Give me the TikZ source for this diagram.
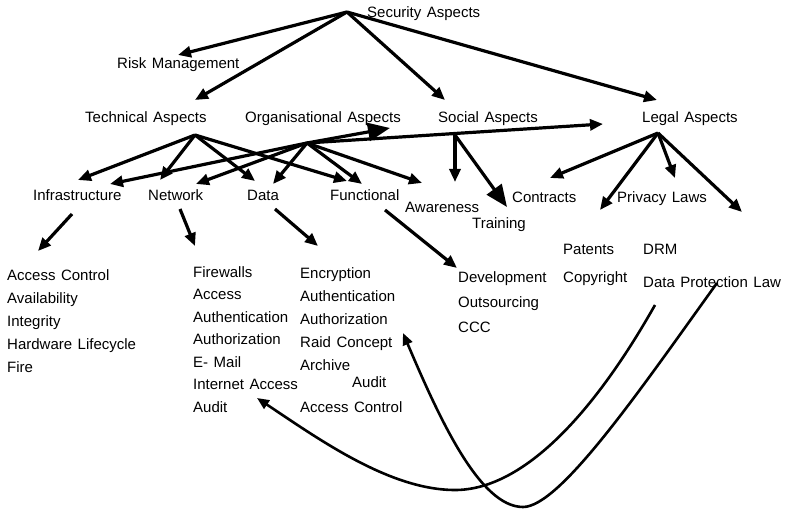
\documentclass[tikz,border=0pt]{standalone}
\usepackage{fontspec}
\setmainfont{Liberation Sans}
\usetikzlibrary{arrows.meta}

\newcommand\lblfont{\fontsize{15}{18}\selectfont\setlength{\spaceskip}{5.5pt}}

\tikzset{
  lbl/.style={anchor=base west, inner sep=0pt, font=\lblfont},
  arr/.style={line width=3.2pt, -{Triangle[length=13pt,width=11pt]}},
  bigarr/.style={line width=3.2pt, -{Triangle[length=22pt,width=18pt]}},
  bow/.style={line width=2.6pt, -{Triangle[length=12pt,width=10pt]}},
}

\begin{document}
\begin{tikzpicture}[x=1pt,y=-1pt]
    \useasboundingbox (0,0) rectangle (790,510);

    \def\capy{5.5}

    %Titulos
    \node[lbl] (sec)  at (367,12+\capy)  {Security Aspects};
    \node[lbl] (risk) at (117,63+\capy)  {Risk Management};
    \node[lbl] (tech) at (85,117+\capy)  {Technical Aspects};
    \node[lbl] (org)  at (245,117+\capy) {Organisational Aspects};
    \node[lbl] (soc)  at (438,117+\capy) {Social Aspects};
    \node[lbl] (leg)  at (642,117+\capy) {Legal Aspects};

    %Nivel2
    \node[lbl] (infra) at (33,195+\capy)  {Infrastructure};
    \node[lbl] (net)   at (148,195+\capy) {Network};
    \node[lbl] (data)  at (247,195+\capy) {Data};
    \node[lbl] (func)  at (330,195+\capy) {Functional};
    \node[lbl] (aware) at (405,207+\capy) {Awareness};
    \node[lbl] (train) at (472,223+\capy) {Training};
    \node[lbl] (contr) at (512,197+\capy) {Contracts};
    \node[lbl] (priv)  at (617,197+\capy) {Privacy Laws};

    %Listas
    \foreach \t [count=\i] in {Access Control, Availability, Integrity, Hardware Lifecycle, Fire}
        \node[lbl] (infra\i) at (7,{275+(\i-1)*23+\capy}) {\t};
    \foreach \t [count=\i] in {Firewalls, Access, Authentication, Authorization, E- Mail, Internet Access, Audit}
        \node[lbl] (net\i) at (193,{272+(\i-1)*22.5+\capy}) {\t};
    \foreach \t [count=\i] in {Encryption, Authentication, Authorization, Raid Concept, Archive}
        \node[lbl] (data\i) at (300,{273+(\i-1)*23+\capy}) {\t};
    \node[lbl] (data6) at (352,382+\capy) {Audit};
    \node[lbl] (data7) at (300,407+\capy) {Access Control};
    \foreach \t [count=\i] in {Development, Outsourcing, CCC}
        \node[lbl] (func\i) at (458,{277+(\i-1)*25+\capy}) {\t};
    \node[lbl] (pat)  at (563,249+\capy) {Patents};
    \node[lbl] (copy) at (563,277+\capy) {Copyright};
    \node[lbl] (drm)  at (643,249+\capy) {DRM};
    \node[lbl] (dpl)  at (643,282+\capy) {Data Protection Law};

    %Salidas
    \coordinate (sec-o)  at (347,12);
    \coordinate (tech-o) at (195,135);
    \coordinate (org-o)  at (307,143);
    \coordinate (soc-o)  at (455,135);
    \coordinate (leg-o)  at (658,133);

    %Puntas
    \coordinate (risk-a) at (178,55);
    \coordinate (tech-a) at (195,100);
    \coordinate (soc-a)  at (445,100);
    \coordinate (leg-a)  at (657,100);
    \coordinate (infra-a) at (78,180);
    \coordinate (net-a)   at (160,180);
    \coordinate (data-a)  at (255,181);
    \coordinate (func-a)  at (347,181);
    \coordinate (infra-b) at (110,184);
    \coordinate (net-b)   at (196,184);
    \coordinate (data-b)  at (273,184);
    \coordinate (func-b)  at (362,184);
    \coordinate (aware-b) at (422,183);
    \coordinate (leg-b)   at (603,124);
    \coordinate (big-b)   at (390,128);
    \coordinate (aware-c) at (455,182);
    \coordinate (train-c) at (507,207);
    \coordinate (contr-d) at (550,178);
    \coordinate (pat-d)   at (600,210);
    \coordinate (priv-d)  at (675,178);
    \coordinate (dpl-d)   at (742,212);

    %Flechas
    \foreach \p in {risk-a, tech-a, soc-a, leg-a}
        \draw[arr] (sec-o) -- (\p);
    \foreach \p in {infra-a, net-a, data-a, func-a}
        \draw[arr] (tech-o) -- (\p);
    \foreach \p in {infra-b, net-b, data-b, func-b, aware-b, leg-b}
        \draw[arr] (org-o) -- (\p);
    \draw[bigarr] (org-o) -- (big-b);
    \draw[arr] (soc-o) -- (aware-c);
    \draw[bigarr] (soc-o) -- (train-c);
    \foreach \p in {contr-d, pat-d, priv-d, dpl-d}
        \draw[arr] (leg-o) -- (\p);

    %Nivel3
    \draw[arr] (72,214) -- (38,251);
    \draw[arr] (180,209) -- (195,246);
    \draw[arr] (275,209) -- (318,246);
    \draw[arr] (385,210) -- (457,268);

    %Curvas
    \coordinate (c1) at (655,305);
    \coordinate (c2) at (717,283);
    \draw[bow] (c1) .. controls (590,420) and (520,490) .. (455,490)
               .. controls (390,490) and (320,440) .. (257,398);
    \draw[bow] (c2) .. controls (640,390) and (560,507) .. (523,507)
               .. controls (480,507) and (440,420) .. (403,333);

\end{tikzpicture}
\end{document}
